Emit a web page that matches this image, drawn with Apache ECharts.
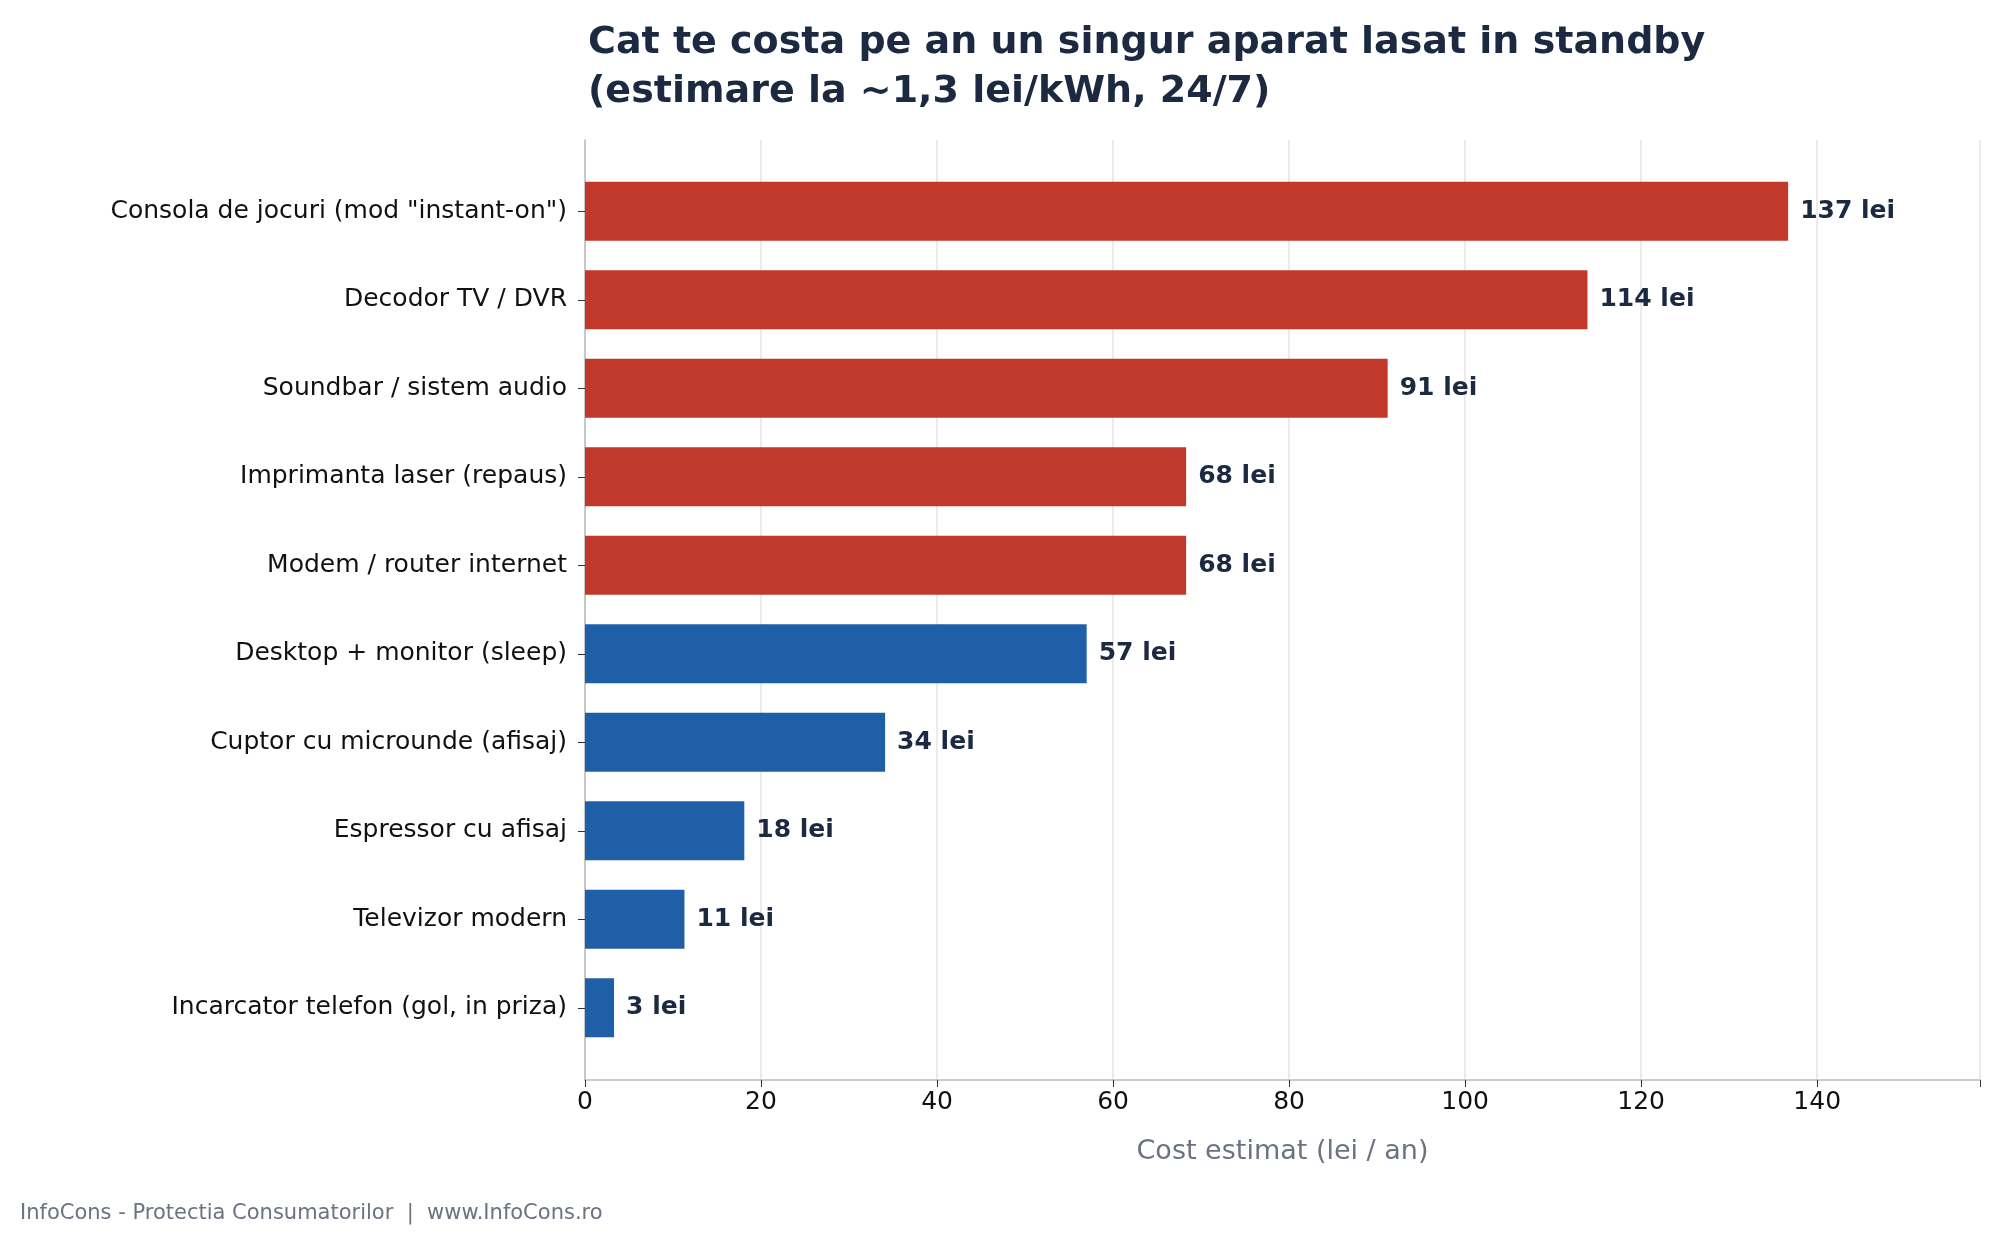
<!DOCTYPE html>
<html><head><meta charset="utf-8">
<script src="https://cdn.jsdelivr.net/npm/echarts@6/dist/echarts.min.js"></script>
<style>html,body{margin:0;padding:0;background:#fff}#c{width:1989px;height:1243px}</style>
</head><body><div id="c"></div>
<script>
const categories = ['Incarcator telefon (gol, in priza)','Televizor modern','Espressor cu afisaj','Cuptor cu microunde (afisaj)','Desktop + monitor (sleep)','Modem / router internet','Imprimanta laser (repaus)','Soundbar / sistem audio','Decodor TV / DVR','Consola de jocuri (mod "instant-on")'];
const values = [3.3, 11.3, 18.1, 34.1, 57.0, 68.3, 68.3, 91.2, 113.9, 136.7];
const highCost = [false,false,false,false,false,true,true,true,true,true];
const xTicks = [0,20,40,60,80,100,120,140];
const RED='#C0392B', BLUE='#1F5FA8', DARK='#1B2A41';
const FONT='DejaVu Sans';
const chart = echarts.init(document.getElementById('c'));
chart.setOption({
  animation:false,
  textStyle:{fontFamily:FONT},
  title:{text:'Cat te costa pe an un singur aparat lasat in standby\n(estimare la ~1,3 lei/kWh, 24/7)',left:583,top:14,
    textStyle:{fontFamily:FONT,fontSize:38,fontWeight:'bold',color:DARK,lineHeight:49}},
  graphic:[{type:'text',left:20,top:1203,style:{text:'InfoCons - Protectia Consumatorilor  |  www.InfoCons.ro',fontFamily:FONT,fontSize:21,fill:'#6B7280'}}],
  grid:[{left:585,right:9,top:140,bottom:163},{left:585,right:9,top:167,bottom:191}],
  xAxis:[
    {gridIndex:0,type:'value',min:0,max:158.5,interval:20,
     axisLine:{show:true,lineStyle:{color:'#BBBBBB',width:1.5}},
     axisTick:{show:true,length:7,lineStyle:{color:'#333'}},
     axisLabel:{fontSize:25,color:'#111',margin:10,formatter:v=>xTicks.includes(v)?String(v):''},
     splitLine:{show:true,lineStyle:{color:'#E5E5E5',width:1.5}},
     name:'Cost estimat (lei / an)',nameLocation:'middle',nameGap:58,nameTextStyle:{fontSize:27,color:'#6B7280'}},
    {gridIndex:1,type:'value',min:0,max:158.5,show:false}
  ],
  yAxis:[
    {gridIndex:0,type:'value',min:0,max:1,axisLine:{show:true,lineStyle:{color:'#BBBBBB',width:1.5}},axisTick:{show:false},axisLabel:{show:false},splitLine:{show:false}},
    {gridIndex:1,type:'category',data:categories,
     axisLine:{show:false},axisTick:{show:true,alignWithLabel:true,length:7,lineStyle:{color:'#333'}},
     axisLabel:{fontSize:25,color:'#111',margin:18}}
  ],
  series:[{type:'bar',xAxisIndex:1,yAxisIndex:1,barWidth:59,
    data:values.map((v,i)=>({value:v,itemStyle:{color:highCost[i]?RED:BLUE}})),
    label:{show:true,position:'right',distance:12,fontSize:25,fontWeight:'bold',color:DARK,formatter:p=>Math.round(p.value)+' lei'}}]
});
</script></body></html>
